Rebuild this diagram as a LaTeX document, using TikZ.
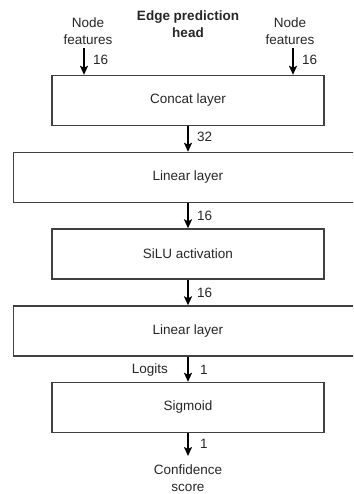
\documentclass[tikz,border=0pt]{standalone}
\usepackage{fontspec}
\setmainfont{Liberation Sans}
\usetikzlibrary{arrows.meta}
\begin{document}
\begin{tikzpicture}[x=1pt,y=-1pt,
  font=\fontsize{13.5}{17}\selectfont,
  every node/.style={text=black!85},
  layerbox/.style={draw=black!75, line width=1.4pt, fill=white, minimum height=50pt, inner sep=0pt},
  narrow/.style={layerbox, minimum width=272pt},
  wide/.style={layerbox, minimum width=349pt},
  flow/.style={line width=1.8pt, -{Stealth[length=9pt,width=8pt,inset=2pt]}},
  dimlabel/.style={anchor=west, inner sep=0pt},
  caption/.style={align=center, inner sep=0pt}
]
\useasboundingbox (0,0) rectangle (353,494);
\clip (0,0) rectangle (353,494);

% title and inputs
\node[caption, font=\fontsize{13.5}{17}\selectfont\bfseries] (title) at (188,24.5) {Edge prediction\\head};
\node[caption] (inL) at (88,31.5) {Node\\features};
\node[caption] (inR) at (290,31.5) {Node\\features};

% layer stack
\node[narrow] (concat) at (188,100.5) {Concat layer};
\node[wide]   (lin1)   at (188,177.5) {Linear layer};
\node[narrow] (silu)   at (188,254)   {SiLU activation};
\node[wide]   (lin2)   at (188,331)   {Linear layer};
\node[narrow] (sig)    at (188,407.5) {Sigmoid};

\node[caption] (out) at (188,478.5) {Confidence\\score};

% input arrows
\coordinate (inLs) at (84,48);
\coordinate (inRs) at (293,48);
\draw[flow] (inLs) -- (inLs |- concat.north);
\draw[flow] (inRs) -- (inRs |- concat.north);
\node[dimlabel] (dL) at (93,60) {16};
\node[dimlabel] (dR) at (302,60) {16};

% stack arrows
\draw[flow] (concat.south) -- (lin1.north);
\node[dimlabel] (d1) at (197,137) {32};
\draw[flow] (lin1.south) -- (silu.north);
\node[dimlabel] (d2) at (197,216) {16};
\draw[flow] (silu.south) -- (lin2.north);
\node[dimlabel] (d3) at (197,293) {16};
\draw[flow] (lin2.south) -- (sig.north);
\node[dimlabel] (d4) at (200,370) {1};
\node[anchor=east, inner sep=0pt] (logits) at (168,370) {Logits};
\coordinate (outtip) at (188,456);
\draw[flow] (sig.south) -- (outtip);
\node[dimlabel] (d5) at (200,444) {1};
\end{tikzpicture}
\end{document}
